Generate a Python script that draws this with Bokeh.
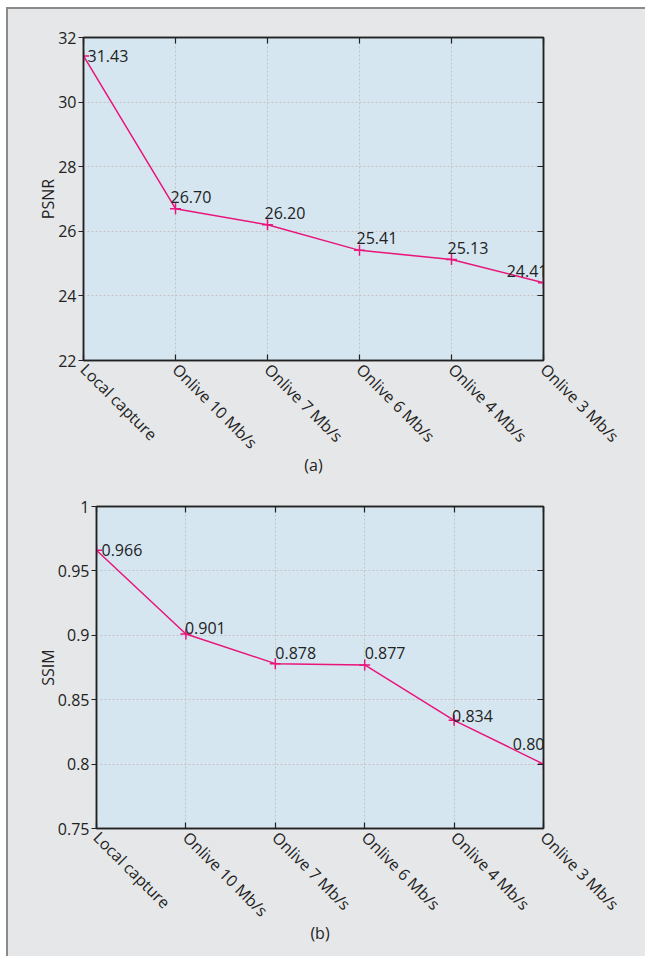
from bokeh.plotting import figure
from bokeh.models import (ColumnDataSource, Range1d, LinearAxis, FixedTicker, Spacer)
from bokeh.layouts import column, row
from bokeh.embed import file_html
from bokeh.resources import INLINE
from bokeh.core.properties import value
import math

categories = ["Local capture", "Onlive 10 Mb/s", "Onlive 7 Mb/s",
              "Onlive 6 Mb/s", "Onlive 4 Mb/s", "Onlive 3 Mb/s"]
psnr = [31.43, 26.70, 26.20, 25.41, 25.13, 24.41]
psnr_labels = ["31.43", "26.70", "26.20", "25.41", "25.13", "24.41"]
psnr_ticks = [22, 24, 26, 28, 30, 32]
ssim = [0.966, 0.901, 0.878, 0.877, 0.834, 0.800]
ssim_labels = ["0.966", "0.901", "0.878", "0.877", "0.834", "0.80"]
ssim_ticks = [0.75, 0.8, 0.85, 0.9, 0.95, 1.0]
ssim_tick_text = ["0.75", "0.8", "0.85", "0.9", "0.95", "1"]

# label placement styles (pixels)
psnr_dx = [4, -5, -3, -3, -4, 4]
psnr_dy = [0, -12, -12, -12, -11, -12]
psnr_align = ["left", "left", "left", "left", "left", "right"]
ssim_dx = [5, -1, 0, 0, -2, 1]
ssim_dy = [0, -6, -11, -12, -4, -20]
ssim_align = ["left", "left", "left", "left", "left", "right"]

FONT = "Open Sans"
FS = "16px"
PAGE = "#e6e7e9"
PLOTBG = "#d6e6f1"
LINE = "#e8157a"
TXT = "#222222"
EDGE = "#8a8a8a"
AXC = "#222222"


def plain_axis(ticks):
    return LinearAxis(ticker=FixedTicker(ticks=ticks), major_label_text_font_size="1px",
                      major_label_text_color=None,
                      major_tick_in=6, major_tick_out=0, minor_tick_in=0, minor_tick_out=0,
                      axis_line_color=AXC, axis_line_width=1.5,
                      major_tick_line_color=AXC, major_tick_line_width=1.2,
                      major_label_standoff=0)


def make_panel(width, height, vals, labels, dx, dy, align, yticks, ytick_text, ylabel,
               tag, top, bottom):
    x = list(range(len(categories)))
    p = figure(width=width, height=height, output_backend="svg", toolbar_location=None,
               x_range=Range1d(0, len(categories) - 1),
               y_range=Range1d(yticks[0], yticks[-1]),
               min_border_left=75, min_border_right=102,
               min_border_top=top, min_border_bottom=bottom,
               background_fill_color=PLOTBG, border_fill_color=PAGE)
    p.outline_line_color = AXC
    p.outline_line_width = 1.5

    for ax in p.axis:
        ax.minor_tick_in = 0
        ax.minor_tick_out = 0
        ax.axis_line_color = AXC
        ax.axis_line_width = 1.5
        ax.major_tick_line_color = AXC
        ax.major_tick_line_width = 1.2
        ax.major_label_text_font = FONT
        ax.major_label_text_font_size = FS
        ax.major_label_text_color = TXT
        ax.axis_label_text_font = FONT
        ax.axis_label_text_font_size = FS
        ax.axis_label_text_font_style = "normal"
        ax.axis_label_text_color = TXT

    p.xaxis.ticker = FixedTicker(ticks=x)
    p.xaxis.major_label_overrides = {i: c for i, c in enumerate(categories)}
    p.xaxis.major_label_orientation = -math.pi / 4
    p.xaxis.major_label_standoff = 6
    p.xaxis.major_tick_in = 6
    p.xaxis.major_tick_out = 0
    p.xaxis.axis_label = tag
    p.xaxis.axis_label_standoff = -10

    p.yaxis.ticker = FixedTicker(ticks=yticks)
    p.yaxis.major_label_overrides = {t: s for t, s in zip(yticks, ytick_text)}
    p.yaxis.major_tick_in = 0
    p.yaxis.major_tick_out = 5
    p.yaxis.axis_label = ylabel
    p.yaxis.major_label_standoff = 2
    p.yaxis.axis_label_standoff = -4

    p.add_layout(plain_axis(x), "above")
    p.add_layout(plain_axis(yticks), "right")

    p.xgrid.ticker = FixedTicker(ticks=x)
    p.ygrid.ticker = FixedTicker(ticks=yticks)
    for g in (p.xgrid, p.ygrid):
        g.grid_line_color = "#c4c4c4"
        g.grid_line_dash = "2 2"
        g.grid_line_width = 1

    src = ColumnDataSource(dict(x=x, y=vals, t=labels, dx=dx, dy=dy, al=align))
    p.line("x", "y", source=src, line_color=LINE, line_width=1.5)
    p.scatter("x", "y", source=src, marker="cross", size=11, line_color=LINE, line_width=1.5)
    p.text("x", "y", text="t", source=src, x_offset="dx", y_offset="dy",
           text_align="al", text_baseline="alphabetic",
           text_font=value(FONT), text_font_size=FS, text_color=TXT)
    return p


# panel a: frame 460 wide; panel b sits 13px further right (narrower frame)
pa = make_panel(637, 469, psnr, psnr_labels, psnr_dx, psnr_dy, psnr_align, psnr_ticks,
                [str(t) for t in psnr_ticks], "PSNR", "(a)", 28, 118)
pb = make_panel(624, 478, ssim, ssim_labels, ssim_dx, ssim_dy, ssim_align, ssim_ticks,
                ssim_tick_text, "SSIM", "(b)", 28, 128)

gap_b = Spacer(width=13, height=478, styles={"background-color": PAGE})
body = column(pa, row(gap_b, pb, spacing=0), spacing=0,
              styles={"border-left": "2px solid " + EDGE, "border-top": "2px solid " + EDGE,
                      "background-color": PAGE})
page = column(Spacer(width=645, height=7),
              row(Spacer(width=6, height=947), body, spacing=0), spacing=0)

open("out.html", "w").write(file_html(page, INLINE))
